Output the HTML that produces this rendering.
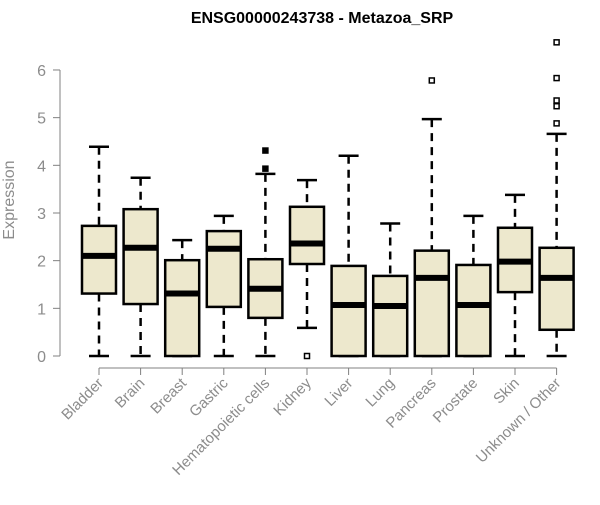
<!DOCTYPE html>
<html><head><meta charset="utf-8"><style>
body{margin:0;background:#fff;}
svg{font-family:"Liberation Sans",Arial,sans-serif;}
</style></head><body>
<svg id="chart" width="600" height="500" viewBox="0 0 600 500">
<text x="322" y="23" text-anchor="middle" font-weight="bold" font-size="16" fill="#000">ENSG00000243738 - Metazoa_SRP</text>
<text x="14" y="200" text-anchor="middle" font-size="16" fill="#8c8c8c" transform="rotate(-90 14 200)">Expression</text>
<g id="yaxis"></g>
<g id="xaxis"></g>
<g id="boxes"></g>
</svg>
<script>
const categories=["Bladder","Brain","Breast","Gastric","Hematopoietic cells","Kidney","Liver","Lung","Pancreas","Prostate","Skin","Unknown / Other"];
const lowWhisker=[0,0,0,0,0,0.59,0,0,0,0,0,0];
const q1=[1.31,1.09,0,1.03,0.80,1.93,0,0,0,0,1.34,0.55];
const medians=[2.10,2.27,1.31,2.25,1.41,2.36,1.07,1.05,1.64,1.07,1.98,1.64];
const q3=[2.73,3.08,2.01,2.62,2.03,3.13,1.89,1.68,2.21,1.91,2.69,2.27];
const highWhisker=[4.39,3.74,2.43,2.94,3.82,3.69,4.20,2.78,4.97,2.94,3.38,4.66];
const outliers=[[],[],[],[],[4.31,3.93],[0],[],[],[5.78],[],[],[6.58,5.83,5.36,5.24,4.88]];
const yTicks=[0,1,2,3,4,5,6];

const NS="http://www.w3.org/2000/svg";
const y=v=>356-v*47.67;
const x=i=>99+i*41.6;
function mk(tag,attrs,parent){const e=document.createElementNS(NS,tag);for(const k in attrs)e.setAttribute(k,attrs[k]);parent.appendChild(e);return e;}
const ya=document.getElementById('yaxis'),xa=document.getElementById('xaxis'),bx=document.getElementById('boxes');
const gray="#808080";
let l=mk('line',{x1:60,x2:60,y1:y(6),y2:y(0),stroke:gray},ya);


yTicks.forEach(t=>{
 let tk=mk('line',{x1:53,x2:60,y1:y(t),y2:y(t),stroke:gray},ya);
 
 
 let tx=mk('text',{x:46,y:y(t)+6,'text-anchor':'end','font-size':16,fill:'#8c8c8c'},ya);
 tx.textContent=t;
 
 
});
let xl=mk('line',{x1:x(0),x2:x(categories.length-1),y1:368,y2:368,stroke:gray},xa);


categories.forEach((c,i)=>{
 const cx=x(i);
 let tk=mk('line',{x1:cx,x2:cx,y1:368,y2:375,stroke:gray},xa);
 
 
 let tx=mk('text',{x:cx+5,y:384,'text-anchor':'end','font-size':15,fill:'#8c8c8c',transform:`rotate(-45 ${cx+5} 384)`},xa);
 tx.textContent=c;
 
 
 const g=mk('g',{},bx);
 
 
 mk('line',{x1:cx,x2:cx,y1:y(highWhisker[i]),y2:y(q3[i]),stroke:'#000','stroke-width':2.5,'stroke-dasharray':'8,6'},g);
 mk('line',{x1:cx,x2:cx,y1:y(q1[i]),y2:y(lowWhisker[i]),stroke:'#000','stroke-width':2.5,'stroke-dasharray':'8,6'},g);
 mk('line',{x1:cx-10,x2:cx+10,y1:y(highWhisker[i]),y2:y(highWhisker[i]),stroke:'#000','stroke-width':2.5},g);
 mk('line',{x1:cx-10,x2:cx+10,y1:y(lowWhisker[i]),y2:y(lowWhisker[i]),stroke:'#000','stroke-width':2.5},g);
 mk('rect',{x:cx-17,y:y(q3[i]),width:34,height:y(q1[i])-y(q3[i]),fill:'#ede8cd',stroke:'#000','stroke-width':2.5},g);
 mk('line',{x1:cx-17,x2:cx+17,y1:y(medians[i]),y2:y(medians[i]),stroke:'#000','stroke-width':6},g);
 outliers[i].forEach(o=>{
  const filled=(i===4);
  let p=mk('rect',{x:cx-2.5,y:y(o)-2.5,width:5,height:5,fill:filled?'#000':'#fff',stroke:'#000','stroke-width':1.5},g);
  
  
 });
});
</script>
</body></html>
